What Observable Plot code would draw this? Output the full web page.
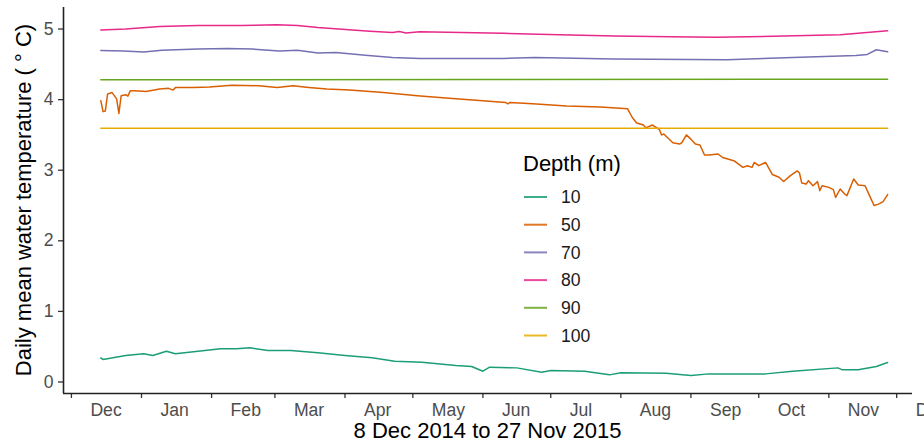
<!DOCTYPE html>
<html><head><meta charset="utf-8">
<script src="https://cdn.jsdelivr.net/npm/d3@7"></script>
<script src="https://cdn.jsdelivr.net/npm/@observablehq/plot@0.6"></script>
<style>
html,body{margin:0;padding:0;background:#fff;overflow:hidden;}
svg{font-family:"Liberation Sans",Arial,sans-serif;}
</style>
</head><body><div id="chart"></div>
<script>
const depths = ["10","50","70","80","90","100"];
const depthColors = ["#1B9E77","#D95F02","#7570B3","#E7298A","#66A61E","#E6AB02"];
const yTicks = [0,1,2,3,4,5];
const monthTicks = ["2014-12-01","2015-01-01","2015-02-01","2015-03-01","2015-04-01","2015-05-01","2015-06-01","2015-07-01","2015-08-01","2015-09-01","2015-10-01","2015-11-01","2015-12-01"];
const xTitle = "8 Dec 2014 to 27 Nov 2015";
const yTitle = "Daily mean water temperature ( \u00B0 C)";
const legendTitle = "Depth (m)";

const dates10 = ["2014-12-14","2014-12-15","2014-12-25","2015-01-02","2015-01-06","2015-01-12","2015-01-16","2015-01-26","2015-02-05","2015-02-12","2015-02-18","2015-02-26","2015-03-08","2015-03-20","2015-04-01","2015-04-13","2015-04-23","2015-05-05","2015-05-20","2015-05-27","2015-06-01","2015-06-04","2015-06-16","2015-06-27","2015-07-01","2015-07-16","2015-07-27","2015-08-01","2015-08-21","2015-09-01","2015-09-09","2015-10-04","2015-10-16","2015-11-05","2015-11-07","2015-11-14","2015-11-22","2015-11-27"];
const temp10 = [0.34,0.32,0.375,0.40,0.375,0.436,0.40,0.436,0.47,0.47,0.484,0.446,0.446,0.413,0.375,0.342,0.295,0.28,0.234,0.219,0.153,0.21,0.20,0.139,0.163,0.153,0.101,0.13,0.125,0.092,0.115,0.115,0.153,0.20,0.172,0.175,0.219,0.276];

const dates50 = ["2014-12-14","2014-12-15","2014-12-16","2014-12-17","2014-12-19","2014-12-21","2014-12-22","2014-12-23","2014-12-25","2014-12-26","2014-12-27","2014-12-29","2015-01-03","2015-01-09","2015-01-13","2015-01-15","2015-01-16","2015-01-24","2015-01-31","2015-02-10","2015-02-22","2015-03-02","2015-03-09","2015-03-16","2015-03-24","2015-04-03","2015-04-18","2015-05-03","2015-05-17","2015-06-01","2015-06-11","2015-06-12","2015-06-13","2015-06-23","2015-07-08","2015-07-23","2015-08-04","2015-08-06","2015-08-08","2015-08-11","2015-08-12","2015-08-15","2015-08-17","2015-08-18","2015-08-19","2015-08-20","2015-08-24","2015-08-27","2015-08-28","2015-08-30","2015-09-01","2015-09-03","2015-09-05","2015-09-07","2015-09-09","2015-09-13","2015-09-15","2015-09-20","2015-09-24","2015-09-26","2015-09-28","2015-09-29","2015-10-01","2015-10-04","2015-10-07","2015-10-10","2015-10-12","2015-10-15","2015-10-18","2015-10-19","2015-10-20","2015-10-22","2015-10-23","2015-10-25","2015-10-27","2015-10-28","2015-10-29","2015-11-01","2015-11-03","2015-11-04","2015-11-06","2015-11-08","2015-11-09","2015-11-12","2015-11-14","2015-11-17","2015-11-19","2015-11-21","2015-11-23","2015-11-25","2015-11-27"];
const temp50 = [3.985,3.83,3.84,4.08,4.10,4.01,3.805,4.055,4.07,4.05,4.125,4.125,4.115,4.15,4.16,4.135,4.17,4.17,4.18,4.205,4.197,4.173,4.197,4.173,4.15,4.135,4.10,4.055,4.02,3.985,3.96,3.94,3.96,3.94,3.91,3.895,3.87,3.75,3.67,3.64,3.60,3.64,3.598,3.58,3.50,3.513,3.39,3.37,3.39,3.50,3.44,3.37,3.357,3.215,3.215,3.23,3.18,3.135,3.04,3.064,3.04,3.11,3.064,3.11,2.94,2.90,2.84,2.923,2.99,2.96,2.82,2.805,2.852,2.78,2.838,2.71,2.78,2.757,2.725,2.615,2.734,2.663,2.64,2.875,2.79,2.78,2.64,2.50,2.52,2.555,2.655];

const dates70 = ["2014-12-14","2014-12-24","2015-01-02","2015-01-10","2015-01-26","2015-02-08","2015-02-19","2015-03-03","2015-03-11","2015-03-20","2015-03-28","2015-04-10","2015-04-22","2015-05-04","2015-06-10","2015-06-24","2015-07-29","2015-09-17","2015-10-23","2015-11-13","2015-11-18","2015-11-22","2015-11-27"];
const temp70 = [4.697,4.69,4.675,4.70,4.716,4.725,4.716,4.69,4.70,4.66,4.669,4.63,4.598,4.584,4.584,4.598,4.574,4.565,4.603,4.625,4.64,4.706,4.678];

const dates80 = ["2014-12-14","2014-12-25","2015-01-09","2015-01-26","2015-02-14","2015-03-02","2015-03-11","2015-03-20","2015-04-12","2015-04-22","2015-04-25","2015-04-28","2015-05-04","2015-06-10","2015-07-05","2015-07-29","2015-08-23","2015-09-12","2015-10-12","2015-11-06","2015-11-27"];
const temp80 = [4.985,5.0,5.036,5.05,5.05,5.06,5.05,5.02,4.97,4.95,4.965,4.945,4.96,4.94,4.92,4.90,4.89,4.885,4.90,4.92,4.975];

const dates90 = ["2014-12-14","2015-06-01","2015-11-27"];
const temp90 = [4.28,4.285,4.29];

const dates100 = ["2014-12-14","2015-06-01","2015-11-27"];
const temp100 = [3.595,3.595,3.595];

const series = [[dates10,temp10],[dates50,temp50],[dates70,temp70],[dates80,temp80],[dates90,temp90],[dates100,temp100]];
const rows = [];
series.forEach(([ds, vs], i) => {
  ds.forEach((d, j) => rows.push({depth: depths[i], date: new Date(d + "T00:00:00Z"), temp: vs[j]}));
});

const xDomain = [new Date("2014-11-27T12:00:00Z"), new Date("2015-12-08T00:00:00Z")];
const yDomain = [-0.163, 5.305];
const ticksX = monthTicks.map(d => new Date(d + "T00:00:00Z"));

const W = 924, H = 447, mL = 63, mR = 12, mT = 7, mB = 54;
const FONT = "Liberation Sans, Arial, sans-serif";

const chart = Plot.plot({
  width: W, height: H,
  marginLeft: mL, marginRight: mR, marginTop: mT, marginBottom: mB,
  style: {background: "#fff", fontFamily: FONT, fontSize: "17.6px"},
  x: {type: "utc", domain: xDomain},
  y: {domain: yDomain},
  color: {domain: depths, range: depthColors},
  marks: [
    Plot.axisY({ticks: yTicks, tickSize: 5, tickFormat: () => "", label: null, stroke: "#333", strokeWidth: 1.3}),
    Plot.axisY({ticks: yTicks, tickSize: 0, tickPadding: 10, tickFormat: d3.format("d"), label: null, fill: "#4d4d4d", fontSize: 17.6}),
    Plot.axisX({ticks: ticksX, tickSize: 5, tickFormat: () => "", label: null, stroke: "#333", strokeWidth: 1.3}),
    Plot.axisX({ticks: ticksX, tickSize: 0, tickPadding: 10, textAnchor: "start", dx: 19, tickFormat: d3.utcFormat("%b"), label: null, fill: "#4d4d4d", fontSize: 17.6}),
    Plot.ruleX([xDomain[0]], {stroke: "#222", strokeWidth: 1.6}),
    Plot.ruleY([yDomain[0]], {stroke: "#222", strokeWidth: 1.6}),
    Plot.line(rows, {x: "date", y: "temp", z: "depth", stroke: "depth", strokeWidth: 1.5})
  ]
});
document.getElementById("chart").appendChild(chart);

const svg = d3.select(chart);
svg.append("text")
  .attr("x", (mL + W - mR) / 2).attr("y", 438)
  .attr("text-anchor", "middle").attr("font-family", FONT).attr("font-size", 22).attr("fill", "#000")
  .text(xTitle);
svg.append("text")
  .attr("transform", `translate(31,${(mT + H - mB) / 2}) rotate(-90)`)
  .attr("text-anchor", "middle").attr("font-family", FONT).attr("font-size", 22).attr("fill", "#000")
  .text(yTitle);

const lg = svg.append("g").attr("font-family", FONT).attr("text-anchor", "start");
lg.append("text").attr("x", 523).attr("y", 171).attr("font-size", 22).attr("fill", "#000").attr("text-anchor", "start").text(legendTitle);
depths.forEach((d, i) => {
  const yy = 197 + i * 27.7;
  lg.append("line").attr("x1", 524).attr("x2", 547).attr("y1", yy).attr("y2", yy)
    .attr("stroke", depthColors[i]).attr("stroke-width", 2).attr("stroke-opacity", 0.85);
  lg.append("text").attr("x", 561).attr("y", yy + 6.3).attr("font-size", 17.6).attr("fill", "#1a1a1a").attr("text-anchor", "start").text(d);
});
</script>
</body></html>
